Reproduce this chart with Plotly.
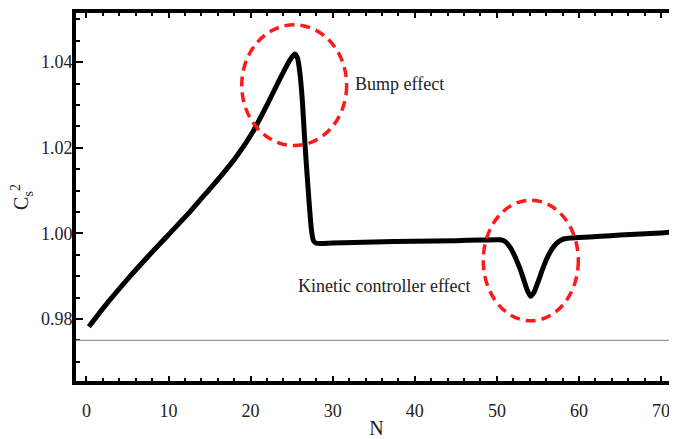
import plotly.graph_objects as go

# ---- data ----
N_vals = [0.3, 2.7, 5.1, 7.5, 10.0, 12.4, 14.3, 16.3, 18.3, 20.3, 22.0, 23.6, 24.8,
          25.35, 25.7, 26.0, 26.3, 26.6, 27.0, 27.4, 27.65, 28.0, 30.0, 35.0,
          40.0, 45.0, 48.0, 50.4, 51.0, 51.6, 52.2, 52.8, 53.3, 53.7, 54.1, 54.5, 55.0,
          55.6, 56.1, 56.7, 57.3, 58.0, 58.9, 60.0, 62.6, 65.0, 70.0, 71.9]
Cs2_vals = [0.9782, 0.9841, 0.9895, 0.9946, 0.9997, 1.0046, 1.0088, 1.0132, 1.0180, 1.0238,
            1.0300, 1.0362, 1.0405, 1.0419, 1.0410, 1.0375, 1.0310, 1.0215, 1.0105, 1.0010,
            0.9983, 0.9977, 0.99775, 0.9980, 0.99815, 0.9983, 0.99845,
            0.9985, 0.9981, 0.9968, 0.9946, 0.9918, 0.9890, 0.9867, 0.9853, 0.9862, 0.9886,
            0.9918, 0.9942, 0.9963, 0.9977, 0.9986, 0.9989, 0.99905, 0.9993, 0.9996,
            1.0001, 1.0004]

reference_level = 0.975
x_ticks = [0, 10, 20, 30, 40, 50, 60, 70]
y_ticks = [0.98, 1.00, 1.02, 1.04]
y_tick_text = ["0.98", "1.00", "1.02", "1.04"]

x_range = [-1.27, 71.94]
y_range = [0.96552, 1.05147]

# annotation ellipses (data units) and labels
bump_box = dict(x0=18.92, x1=31.70, y0=1.0205, y1=1.0487)
kin_box = dict(x0=48.34, x1=59.92, y0=0.97958, y1=1.00776)
bump_label = ("Bump effect", 32.5, 1.0348)
kin_label = ("Kinetic controller effect", 25.5, 0.98769)

FONT = "Liberation Serif"
PAGE_OFFSET = 8  # default body margin of the html page

fig = go.Figure()
fig.add_trace(go.Scatter(x=N_vals, y=Cs2_vals, mode="lines",
                         line=dict(color="black", width=5, shape="spline", smoothing=0.6),
                         showlegend=False, hoverinfo="skip"))
# invisible copy on right axis so mirrored right-side ticks render
fig.add_trace(go.Scatter(x=N_vals, y=Cs2_vals, mode="lines", yaxis="y2",
                         line=dict(color="rgba(0,0,0,0)", width=0),
                         showlegend=False, hoverinfo="skip"))

fig.add_hline(y=reference_level, line=dict(color="#9a9a9a", width=1.2))

for box in (bump_box, kin_box):
    fig.add_shape(type="circle", xref="x", yref="y", **box,
                  line=dict(color="#ff1a1a", width=3.5, dash="10px,6px"))

for text, xx, yy in (bump_label, kin_label):
    fig.add_annotation(x=xx, y=yy, text=text, showarrow=False, xanchor="left",
                       yanchor="middle", font=dict(family=FONT, size=18, color="#222"))

axis_common = dict(showgrid=False, zeroline=False, ticks="inside",
                   tickcolor="black", tickfont=dict(family=FONT, size=18, color="#222"))

fig.update_layout(
    width=677 - PAGE_OFFSET, height=439 - PAGE_OFFSET,
    margin=dict(l=76 - PAGE_OFFSET, r=0, t=13 - PAGE_OFFSET, b=55),
    paper_bgcolor="white", plot_bgcolor="white",
    xaxis=dict(range=x_range, tickvals=x_ticks, ticklen=5, tickwidth=2,
               showline=True, linecolor="black", linewidth=4, mirror="ticks",
               minor=dict(dtick=2, tick0=0, ticks="inside", ticklen=3, tickwidth=1.5,
                          tickcolor="black"),
               ticklabelstandoff=10,
               title=dict(text="N", font=dict(family=FONT, size=20, color="#222"), standoff=4),
               **axis_common),
    yaxis=dict(range=y_range, tickvals=y_ticks, ticktext=y_tick_text, ticklen=7, tickwidth=2,
               showline=True, linecolor="black", linewidth=4, mirror=False,
               minor=dict(dtick=0.005, tick0=0.98, ticks="inside", ticklen=4, tickwidth=1.5,
                          tickcolor="black"),
               ticklabelstandoff=-4,
               title=dict(text="C<sub>s</sub><sup>2</sup>",
                          font=dict(family=FONT, size=20, color="#222"), standoff=12),
               **axis_common),
    yaxis2=dict(range=y_range, overlaying="y", side="right", showline=False,
                tickvals=y_ticks, ticklen=4, tickwidth=1.5, showticklabels=False,
                showgrid=False, zeroline=False, ticks="inside", tickcolor="black"),
)

fig.write_html("out.html")
